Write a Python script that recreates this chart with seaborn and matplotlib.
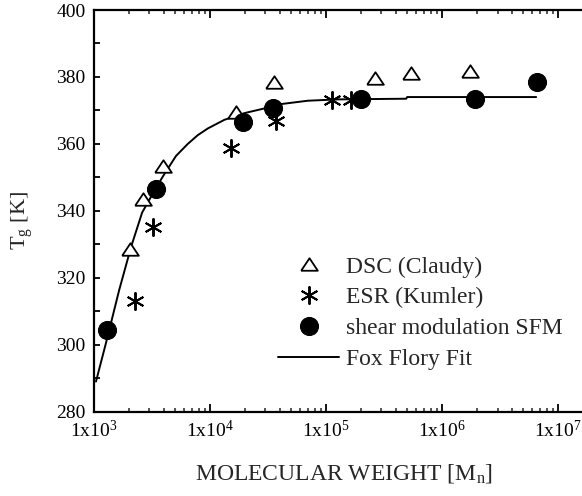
import numpy as np
import pandas as pd
import matplotlib
matplotlib.use("Agg")
import matplotlib.pyplot as plt
import matplotlib.ticker as mtick
import seaborn as sns

# values
dsc_mn = [2050, 2640, 3900, 16900, 35800, 266000, 541000, 1730000]
dsc_tg = [328.6, 343.6, 353.5, 369.5, 378.4, 379.6, 381.3, 381.8]

esr_mn = [2270, 3210, 15200, 37300, 112000, 164000]
esr_tg = [313.1, 335.1, 358.9, 366.7, 373.1, 373.1]

sfm_mn = [1300, 3440, 19400, 34700, 200000, 1920000, 6550000]
sfm_tg = [304.5, 346.6, 366.6, 370.6, 373.5, 373.5, 378.6]

fit_mn = [1040, 1290, 1650, 2090, 2600, 3440, 4040, 5090, 6430, 7830, 9550,
          13300, 19800, 29400, 40900, 69500, 126000, 490000, 500000, 6460000]
fit_tg = [289.0, 301.5, 316.4, 329.3, 339.5, 347.0, 351.0, 356.4, 360.0, 362.6,
          364.6, 367.2, 369.2, 370.6, 371.9, 372.9, 373.3, 373.5, 374.0, 374.0]

sns.set_theme(style="ticks")
plt.rcParams["font.family"] = ["Liberation Serif", "DejaVu Serif"]
plt.rcParams["mathtext.fontset"] = "custom"
plt.rcParams["mathtext.rm"] = "Liberation Serif"
plt.rcParams["mathtext.default"] = "regular"

fig = plt.figure(figsize=(5.82, 4.96), dpi=100)
ax = fig.add_axes([0.1615, 0.170, 0.8574, 0.8098])

tri = [(-1, -0.75), (1, -0.75), (0, 0.75), (-1, -0.75)]

sns.lineplot(x=fit_mn, y=fit_tg, ax=ax, color="black", lw=1.4,
             sort=False, estimator=None, label="Fox Flory Fit", zorder=2)
sns.lineplot(x=dsc_mn, y=dsc_tg, ax=ax, linestyle="none", marker=tri,
             markersize=12, markerfacecolor="white", markeredgecolor="black",
             markeredgewidth=1.3, color="black", sort=False, estimator=None,
             label="DSC (Claudy)", zorder=3)
sns.lineplot(x=esr_mn, y=esr_tg, ax=ax, linestyle="none", marker=(6, 2, 0),
             markersize=13, markeredgecolor="black", markeredgewidth=1.4,
             color="black", sort=False, estimator=None,
             label="ESR (Kumler)", zorder=3)
sns.lineplot(x=sfm_mn, y=sfm_tg, ax=ax, linestyle="none", marker="o",
             markersize=13, markerfacecolor="black", markeredgecolor="black",
             color="black", sort=False, estimator=None,
             label="shear modulation SFM", zorder=4)

ax.set_xscale("log")
ax.set_xlim(1e3, 10 ** 7.3)
ax.set_ylim(280, 400)
ax.yaxis.set_major_locator(mtick.MultipleLocator(20))
ax.yaxis.set_minor_locator(mtick.MultipleLocator(10))
ax.xaxis.set_major_locator(mtick.LogLocator(base=10, numticks=10))
ax.xaxis.set_minor_locator(mtick.LogLocator(base=10, subs=np.arange(2, 10), numticks=20))
ax.xaxis.set_minor_formatter(mtick.NullFormatter())
ax.xaxis.set_major_formatter(mtick.FuncFormatter(
    lambda v, p: r"1x10$^{%d}$" % int(round(np.log10(v)))))

for s in ["left", "bottom", "top"]:
    ax.spines[s].set_linewidth(1.6)
    ax.spines[s].set_color("black")
ax.spines["right"].set_visible(False)

ax.tick_params(axis="x", which="major", direction="in", length=6, width=1.3,
               top=True, labelsize=14, pad=6, colors="black")
ax.tick_params(axis="x", which="minor", direction="in", length=3, width=1.1,
               top=True)
ax.tick_params(axis="y", which="both", direction="in", length=4.5, width=1.3,
               labelsize=14, pad=6, colors="black")

ax.set_xlabel(r"MOLECULAR WEIGHT [M$_n$]", fontsize=17, labelpad=15)
ax.set_ylabel(r"T$_g$ [K]", fontsize=16)
ax.yaxis.set_label_coords(-0.118, 0.477)

handles, labels = ax.get_legend_handles_labels()
order = ["DSC (Claudy)", "ESR (Kumler)", "shear modulation SFM", "Fox Flory Fit"]
hmap = dict(zip(labels, handles))
ax.legend([hmap[k] for k in order], order, loc="upper left",
          bbox_to_anchor=(278 / 582, 1 - 256 / 496), bbox_transform=fig.transFigure,
          frameon=False, fontsize=17, handlelength=2.6, handletextpad=0.3,
          labelspacing=0.4, borderpad=0, borderaxespad=0)

fig.savefig("out.png", dpi=100)
